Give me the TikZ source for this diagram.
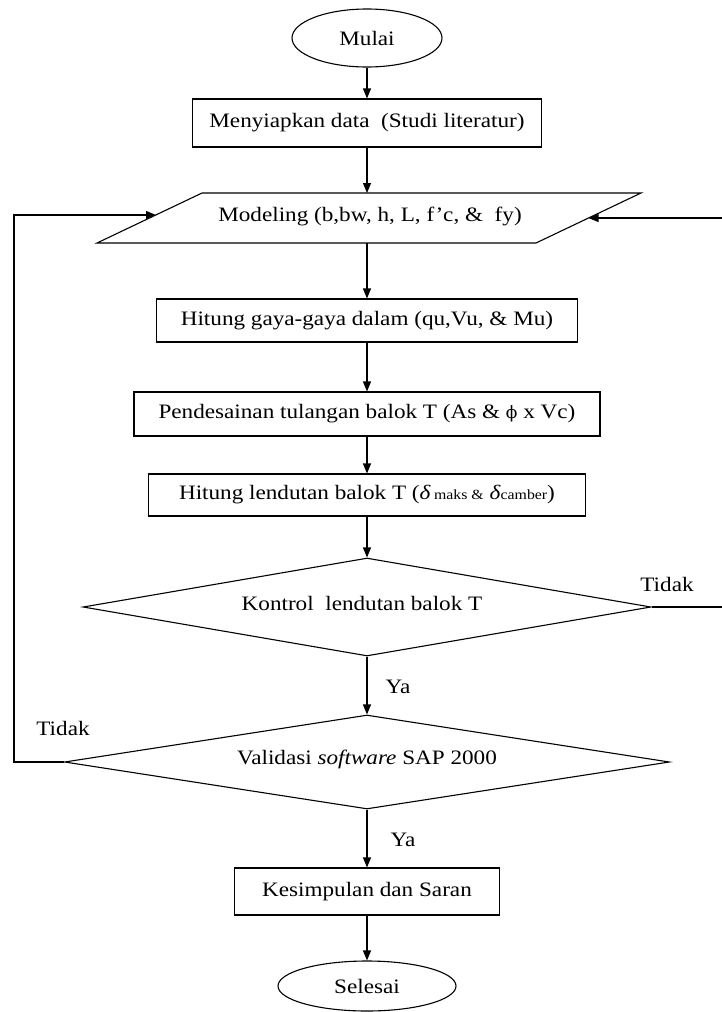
\documentclass[tikz,border=0pt]{standalone}
\usepackage{fontspec}
\setmainfont{Liberation Serif}[FakeStretch=1.13]
\newfontfamily\djvserif{DejaVu Serif}
\usetikzlibrary{shapes.geometric,arrows.meta}
\newcommand{\smtxt}{\fontsize{14}{16}\selectfont}
\begin{document}
\begin{tikzpicture}[x=1pt,y=-1pt,line width=1.1pt,
  arr/.style={-{Triangle[length=10pt,width=8pt]}},
  every node/.style={font=\fontsize{20.5}{24}\selectfont,text=black},
  box/.style={draw,rectangle,inner sep=0pt},
  term/.style={draw,ellipse,inner sep=0pt},
  dec/.style={draw,diamond,inner sep=0pt},
  lbl/.style={inner sep=0pt}]
\useasboundingbox (0,0) rectangle (721,1012);

% nodes
\node[term,minimum width=150pt,minimum height=58pt] (mulai) at (367,38) {Mulai};
\node[box,minimum width=349pt,minimum height=48pt] (data) at (367,123) {Menyiapkan data\ \ (Studi literatur)};

% parallelogram
\coordinate (pTL) at (202,193);
\coordinate (pTR) at (641,193);
\coordinate (pBR) at (536,243);
\coordinate (pBL) at (97,243);
\draw (pTL) -- (pTR) -- (pBR) -- (pBL) -- cycle;
\node[lbl] (model) at (370,216) {Modeling (b,bw, h, L, f’c, \&\ \ fy)};
\coordinate (mtop) at (367,193);
\coordinate (mbot) at (367,243);
\coordinate (mL) at (156,215);
\coordinate (mR) at (588.5,218);

\node[box,minimum width=421pt,minimum height=43pt] (gaya) at (367,320.5) {Hitung gaya-gaya dalam (qu,Vu, \& Mu)};
\node[box,minimum width=466pt,minimum height=44pt] (desain) at (367,414) {Pendesainan tulangan balok T (As \& {\djvserif\fontsize{17}{20}\selectfont ϕ} x Vc)};
\node[box,minimum width=437pt,minimum height=42pt] (lend) at (367,495) {Hitung lendutan balok T (\textit{δ}\,{\smtxt maks \&} \textit{δ}{\smtxt camber})};
\node[dec,aspect=5.8,minimum width=568pt,minimum height=98pt] (kontrol) at (367,607) {};
\node[lbl] (kontroltxt) at (362,603) {Kontrol\ \ lendutan balok T};
\node[dec,aspect=6.4,minimum width=605pt,minimum height=94pt] (valid) at (367,762) {};
\node[lbl] (validtxt) at (367,759) {Validasi \textit{software} SAP 2000};
\node[box,minimum width=265pt,minimum height=47pt] (simpul) at (367,891.5) {Kesimpulan dan Saran};
\node[term,minimum width=178pt,minimum height=50pt] (selesai) at (367,986) {Selesai};

% labels
\node[lbl] (ya1) at (398,687) {Ya};
\node[lbl] (ya2) at (403,840) {Ya};
\node[lbl] (tidak1) at (667,584) {Tidak};
\node[lbl] (tidak2) at (63,728) {Tidak};

% connectors
\draw[arr] (mulai.south) -- (data.north);
\draw[arr] (data.south) -- (mtop);
\draw[arr] (mbot) -- (gaya.north);
\draw[arr] (gaya.south) -- (desain.north);
\draw[arr] (desain.south) -- (lend.north);
\draw[arr] (lend.south) -- (kontrol.north);
\draw[arr] (kontrol.south) -- (valid.north);
\draw[arr] (valid.south) -- (simpul.north);
\draw[arr] (simpul.south) -- (selesai.north);

% feedback loops
\coordinate (rc1) at (723,607);
\coordinate (rc2) at (723,218);
\draw[arr] (kontrol.east) -- (rc1) -- (rc2) -- (mR);
\coordinate (lc1) at (14,762);
\coordinate (lc2) at (14,215);
\draw[arr] (valid.west) -- (lc1) -- (lc2) -- (mL);
\end{tikzpicture}
\end{document}
